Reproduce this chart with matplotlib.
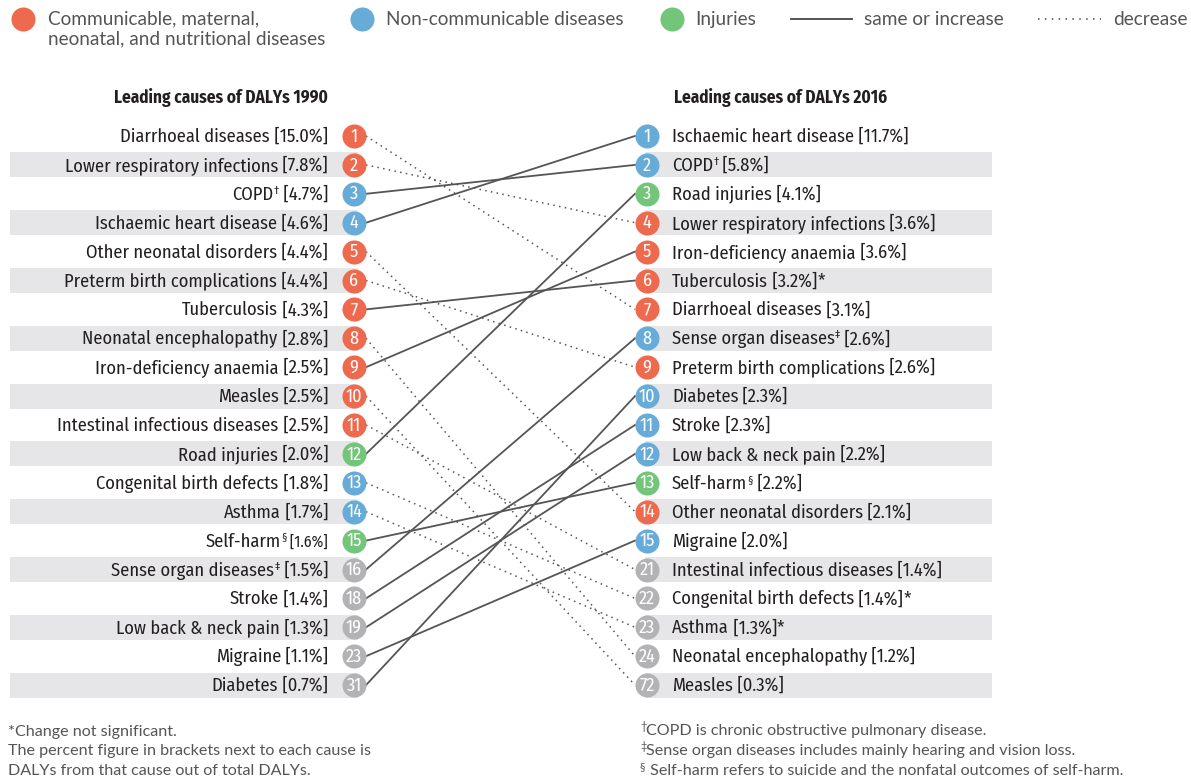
"""Leading causes of DALYs, 1990 vs 2016 -- slope/rank chart."""

import matplotlib
matplotlib.use("Agg")
import matplotlib.pyplot as plt

# ---- data -------------------------------------------------------------------
causes_1990 = ["Diarrhoeal diseases", "Lower respiratory infections", "COPD",
               "Ischaemic heart disease", "Other neonatal disorders",
               "Preterm birth complications", "Tuberculosis",
               "Neonatal encephalopathy", "Iron-deficiency anaemia", "Measles",
               "Intestinal infectious diseases", "Road injuries",
               "Congenital birth defects", "Asthma", "Self-harm",
               "Sense organ diseases", "Stroke", "Low back & neck pain",
               "Migraine", "Diabetes"]
ranks_1990 = [1, 2, 3, 4, 5, 6, 7, 8, 9, 10, 11, 12, 13, 14, 15, 16, 18, 19, 23, 31]
pct_1990 = [15.0, 7.8, 4.7, 4.6, 4.4, 4.4, 4.3, 2.8, 2.5, 2.5, 2.5, 2.0, 1.8,
            1.7, 1.6, 1.5, 1.4, 1.3, 1.1, 0.7]
group_1990 = ["C", "C", "N", "N", "C", "C", "C", "C", "C", "C", "C", "I", "N",
              "N", "I", "G", "G", "G", "G", "G"]

causes_2016 = ["Ischaemic heart disease", "COPD", "Road injuries",
               "Lower respiratory infections", "Iron-deficiency anaemia",
               "Tuberculosis", "Diarrhoeal diseases", "Sense organ diseases",
               "Preterm birth complications", "Diabetes", "Stroke",
               "Low back & neck pain", "Self-harm", "Other neonatal disorders",
               "Migraine", "Intestinal infectious diseases",
               "Congenital birth defects", "Asthma", "Neonatal encephalopathy",
               "Measles"]
ranks_2016 = [1, 2, 3, 4, 5, 6, 7, 8, 9, 10, 11, 12, 13, 14, 15, 21, 22, 23, 24, 72]
pct_2016 = [11.7, 5.8, 4.1, 3.6, 3.6, 3.2, 3.1, 2.6, 2.6, 2.3, 2.3, 2.2, 2.2,
            2.1, 2.0, 1.4, 1.4, 1.3, 1.2, 0.3]
group_2016 = ["N", "N", "I", "C", "C", "C", "C", "N", "C", "N", "N", "N", "I",
              "C", "N", "G", "G", "G", "G", "G"]
not_significant_2016 = {"Tuberculosis", "Congenital birth defects", "Asthma"}

# footnote marks attached to some cause names
marks = {"COPD": "\u2020", "Sense organ diseases": "\u2021", "Self-harm": "\u00a7"}

colors = {"C": "#EE6A4E", "N": "#67ACD8", "I": "#72C579", "G": "#B3B3B5"}

# ---- layout (axes in pixel units) -------------------------------------------
W, H = 1191, 784
ROW0, STEP = 136, 28.9
X_LEFT_TXT, X_LEFT_DOT = 328, 354
X_RIGHT_DOT, X_RIGHT_TXT = 647, 672
TXT = "#231F20"
GREY_TXT = "#555558"
LINE = "#555555"
COND = ["Fira Sans Condensed", "DejaVu Sans"]
HUMAN = ["Lato", "DejaVu Sans"]
FS = 13.3
LEG_FS = 13.7
NOTE_FS = 11.6

fig = plt.figure(figsize=(W / 100, H / 100), dpi=100)
ax = fig.add_axes([0, 0, 1, 1])
ax.set_xlim(0, W)
ax.set_ylim(H, 0)
ax.axis("off")
renderer = fig.canvas.get_renderer()


def row_y(i):
    return ROW0 + i * STEP


def draw_pieces(x, y, pieces, ha="left"):
    """Draw a run of (text, size, raise_px) pieces on one baseline."""
    items = []
    for s, size, rise in pieces:
        t = ax.text(0, y - rise, s, fontsize=size, family=COND, color=TXT,
                    ha="left", va="baseline")
        w = t.get_window_extent(renderer).width
        items.append((t, w))
    total = sum(w for _, w in items)
    cur = x - total if ha == "right" else x
    for t, w in items:
        t.set_x(cur)
        cur += w


def label_pieces(name, pct, star=False, pct_size=FS):
    p = [(name, FS, 0)]
    if name in marks:
        p.append((marks[name], 8, 6))
    p.append((f" [{pct:.1f}%]", pct_size, 0))
    if star:
        p.append(("*", FS, 0))
    return p


# alternating bands
n = len(causes_1990)
band_rows = [row_y(i) for i in range(1, n, 2)]
ax.barh(band_rows, [358 - 10] * len(band_rows), left=10, height=25,
        color="#E6E6E8", zorder=0)
ax.barh(band_rows, [992 - 645] * len(band_rows), left=645, height=25,
        color="#E6E6E8", zorder=0)

# connecting lines
for i, c in enumerate(causes_1990):
    j = causes_2016.index(c)
    up = ranks_2016[j] <= ranks_1990[i]
    ls = "-" if up else (0, (1, 2.8))
    ax.plot([X_LEFT_DOT + 12, X_RIGHT_DOT - 12], [row_y(i), row_y(j)],
            color=LINE, lw=1.3 if up else 1.1, ls=ls, zorder=1)

# circles + labels
for i in range(n):
    y = row_y(i)
    ax.scatter(X_LEFT_DOT, y, s=300, color=colors[group_1990[i]], zorder=3,
               linewidths=0)
    ax.text(X_LEFT_DOT, y + 0.5, str(ranks_1990[i]), color="white",
            fontsize=13, family=COND, ha="center", va="center", zorder=4)
    psize = FS - 2 if causes_1990[i] == "Self-harm" else FS
    draw_pieces(X_LEFT_TXT, y + 6,
                label_pieces(causes_1990[i], pct_1990[i], pct_size=psize),
                ha="right")

    ax.scatter(X_RIGHT_DOT, y, s=300, color=colors[group_2016[i]], zorder=3,
               linewidths=0)
    ax.text(X_RIGHT_DOT, y + 0.5, str(ranks_2016[i]), color="white",
            fontsize=13, family=COND, ha="center", va="center", zorder=4)
    draw_pieces(X_RIGHT_TXT, y + 6,
                label_pieces(causes_2016[i], pct_2016[i],
                             star=causes_2016[i] in not_significant_2016))

# column titles
ax.text(X_LEFT_TXT, 97, "Leading causes of DALYs 1990", fontsize=12.4,
        family=COND, weight="bold", color=TXT, ha="right", va="center")
ax.text(674, 97, "Leading causes of DALYs 2016", fontsize=12.4,
        family=COND, weight="bold", color=TXT, ha="left", va="center")

# legend
leg_y = 19
for x, g in [(23, "C"), (362, "N"), (672, "I")]:
    ax.scatter(x, leg_y, s=300, color=colors[g], linewidths=0)
ax.text(48, leg_y, "Communicable, maternal,", fontsize=LEG_FS, family=HUMAN,
        color=GREY_TXT, ha="left", va="center")
ax.text(48, leg_y + 20, "neonatal, and nutritional diseases", fontsize=LEG_FS,
        family=HUMAN, color=GREY_TXT, ha="left", va="center")
ax.text(386, leg_y, "Non-communicable diseases", fontsize=LEG_FS, family=HUMAN,
        color=GREY_TXT, ha="left", va="center")
ax.text(695, leg_y, "Injuries", fontsize=LEG_FS, family=HUMAN,
        color=GREY_TXT, ha="left", va="center")
ax.plot([791, 852], [leg_y, leg_y], color="#444444", lw=1.3)
ax.text(864, leg_y, "same or increase", fontsize=LEG_FS, family=HUMAN,
        color=GREY_TXT, ha="left", va="center")
ax.plot([1038, 1101], [leg_y, leg_y], color="#444444", lw=1.1, ls=(0, (1, 3.5)))
ax.text(1113, leg_y, "decrease", fontsize=LEG_FS, family=HUMAN,
        color=GREY_TXT, ha="left", va="center")

# footnotes
notes_left = ["*Change not significant.",
              "The percent figure in brackets next to each cause is",
              "DALYs from that cause out of total DALYs."]
for k, s in enumerate(notes_left):
    ax.text(8, 732 + k * 19.5, s, fontsize=NOTE_FS, family=HUMAN,
            color=GREY_TXT, ha="left", va="center")

notes_right = [("\u2020", "COPD is chronic obstructive pulmonary disease."),
               ("\u2021", "Sense organ diseases includes mainly hearing and vision loss."),
               ("\u00a7", " Self-harm refers to suicide and the nonfatal outcomes of self-harm.")]
for k, (m, s) in enumerate(notes_right):
    y = 731 + k * 20
    ax.text(640, y - 4, m, fontsize=8, family=HUMAN, color=GREY_TXT,
            ha="left", va="center")
    ax.text(646, y, s, fontsize=NOTE_FS, family=HUMAN, color=GREY_TXT,
            ha="left", va="center")

fig.savefig("out.png", dpi=100)
